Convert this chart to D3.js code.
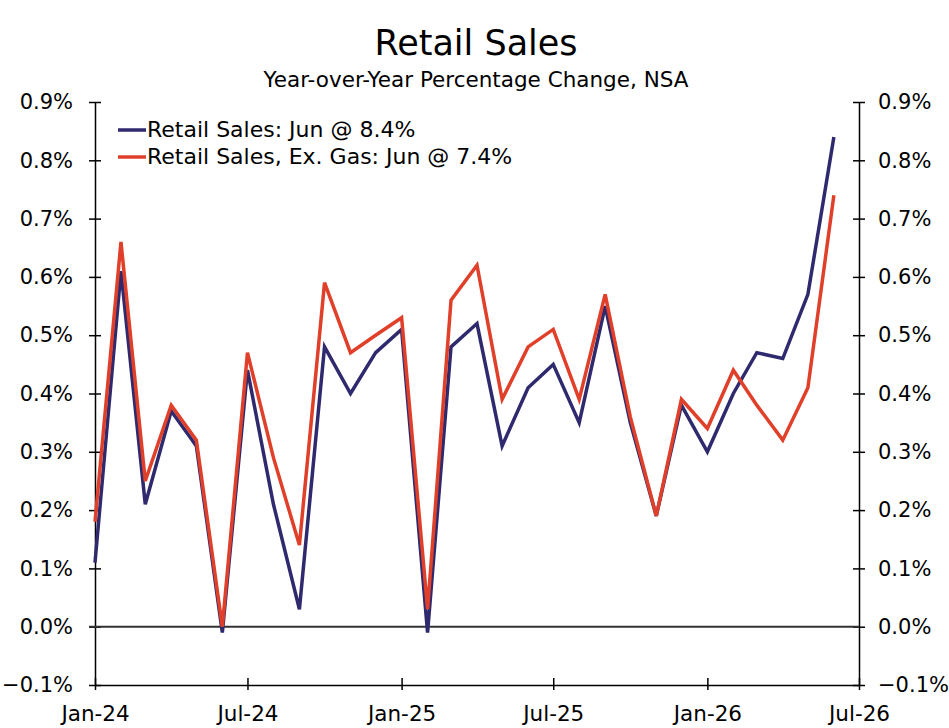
<html>
<head>
    <meta charset="utf-8">
    <title>Retail Sales</title>
    <style>
        body { margin: 0; background: #fff; }
        text { font-family: Verdana, "DejaVu Sans", sans-serif; fill: #000; }
    </style>
</head>
<body>
<script src="https://cdn.jsdelivr.net/npm/d3@7"></script>
<script>
    var width = 949;
    var height = 728;

    // months Jan-24 .. Jun-26
    var months = ["2024-01","2024-02","2024-03","2024-04","2024-05","2024-06",
                  "2024-07","2024-08","2024-09","2024-10","2024-11","2024-12",
                  "2025-01","2025-02","2025-03","2025-04","2025-05","2025-06",
                  "2025-07","2025-08","2025-09","2025-10","2025-11","2025-12",
                  "2026-01","2026-02","2026-03","2026-04","2026-05","2026-06"];
    var retailSales = [0.11, 0.61, 0.21, 0.37, 0.31, -0.01,
                       0.44, 0.21, 0.03, 0.48, 0.40, 0.47,
                       0.51, -0.01, 0.48, 0.52, 0.31, 0.41,
                       0.45, 0.35, 0.55, 0.35, 0.19, 0.38,
                       0.30, 0.40, 0.47, 0.46, 0.57, 0.84];
    var exGas = [0.18, 0.66, 0.25, 0.38, 0.32, 0.00,
                 0.47, 0.29, 0.14, 0.59, 0.47, 0.50,
                 0.53, 0.03, 0.56, 0.62, 0.39, 0.48,
                 0.51, 0.39, 0.57, 0.36, 0.19, 0.39,
                 0.34, 0.44, 0.38, 0.32, 0.41, 0.74];
    var yTicks = [-0.1, 0, 0.1, 0.2, 0.3, 0.4, 0.5, 0.6, 0.7, 0.8, 0.9];
    var xTicks = ["2024-01","2024-07","2025-01","2025-07","2026-01","2026-07"];
    var seriesNames = ["Retail Sales: Jun @ 8.4%", "Retail Sales, Ex. Gas: Jun @ 7.4%"];
    var seriesColors = ["#2f2a6e", "#e0402a"];

    var parse = d3.timeParse("%Y-%m");
    var margin = {left: 95, right: 90, top: 102, bottom: 43};

    var svg = d3.select('body')
            .append('svg')
            .attr('width', width)
            .attr('height', height);

    var x = d3.scaleTime()
            .domain([parse("2024-01"), parse("2026-07")])
            .range([margin.left, width - margin.right]);
    var y = d3.scaleLinear()
            .domain([-0.1, 0.9])
            .range([height - margin.bottom, margin.top]);

    // titles
    svg.append('text')
            .attr('x', 476).attr('y', 55)
            .attr('text-anchor', 'middle')
            .style('font-size', '35px')
            .text('Retail Sales');
    svg.append('text')
            .attr('x', 476).attr('y', 87)
            .attr('text-anchor', 'middle')
            .style('font-size', '21.5px')
            .text('Year-over-Year Percentage Change, NSA');

    var fmt = d3.format('.1f');

    // left axis
    var yLeft = svg.append('g')
            .attr('transform', 'translate(' + margin.left + ',0)')
            .call(d3.axisLeft(y).tickValues(yTicks).tickSize(0).tickPadding(22)
                    .tickFormat(function (d) { return fmt(d) + '%'; }));
    // right axis
    var yRight = svg.append('g')
            .attr('transform', 'translate(' + (width - margin.right) + ',0)')
            .call(d3.axisRight(y).tickValues(yTicks).tickSize(0).tickPadding(19)
                    .tickFormat(function (d) { return fmt(d) + '%'; }));

    [yLeft, yRight].forEach(function (g) {
        g.select('.domain').attr('stroke', '#000').attr('stroke-width', 1.5);
        g.selectAll('.tick line').remove();
        g.selectAll('.tick').append('line')
                .attr('x1', -6).attr('x2', 6)
                .attr('stroke', '#000').attr('stroke-width', 1.5);
        g.selectAll('text')
                .style('font-size', '21px')
                .style('font-family', 'Verdana, "DejaVu Sans", sans-serif');
    });

    // bottom axis
    var xAxis = svg.append('g')
            .attr('transform', 'translate(0,' + (height - margin.bottom) + ')')
            .call(d3.axisBottom(x).tickValues(xTicks.map(parse)).tickSize(0).tickPadding(21)
                    .tickFormat(d3.timeFormat('%b-%y')));
    xAxis.select('.domain').attr('stroke', '#000').attr('stroke-width', 1.5);
    xAxis.selectAll('.tick').append('line')
            .attr('y1', -7).attr('y2', 5)
            .attr('stroke', '#000').attr('stroke-width', 1.5);
    xAxis.selectAll('text')
            .style('font-size', '21.5px')
            .style('font-family', 'Verdana, "DejaVu Sans", sans-serif');

    // zero line
    svg.append('line')
            .attr('x1', margin.left - 6).attr('x2', width - margin.right)
            .attr('y1', y(0)).attr('y2', y(0))
            .attr('stroke', '#333').attr('stroke-width', 2);

    // series lines
    var line = d3.line()
            .x(function (d, i) { return x(parse(months[i])); })
            .y(function (d) { return y(d); });

    [retailSales, exGas].forEach(function (s, k) {
        svg.append('path')
                .datum(s)
                .attr('d', line)
                .attr('fill', 'none')
                .attr('stroke', seriesColors[k])
                .attr('stroke-width', 3.5)
                .attr('stroke-linejoin', 'miter');
    });

    // legend
    var legend = svg.append('g');
    seriesNames.forEach(function (name, k) {
        var ly = 130 + k * 27;
        legend.append('line')
                .attr('x1', 118).attr('x2', 146)
                .attr('y1', ly).attr('y2', ly)
                .attr('stroke', seriesColors[k])
                .attr('stroke-width', 3.5);
        legend.append('text')
                .attr('x', 147).attr('y', ly + 7)
                .style('font-size', '22px')
                .text(name);
    });
</script>
</body>
</html>
